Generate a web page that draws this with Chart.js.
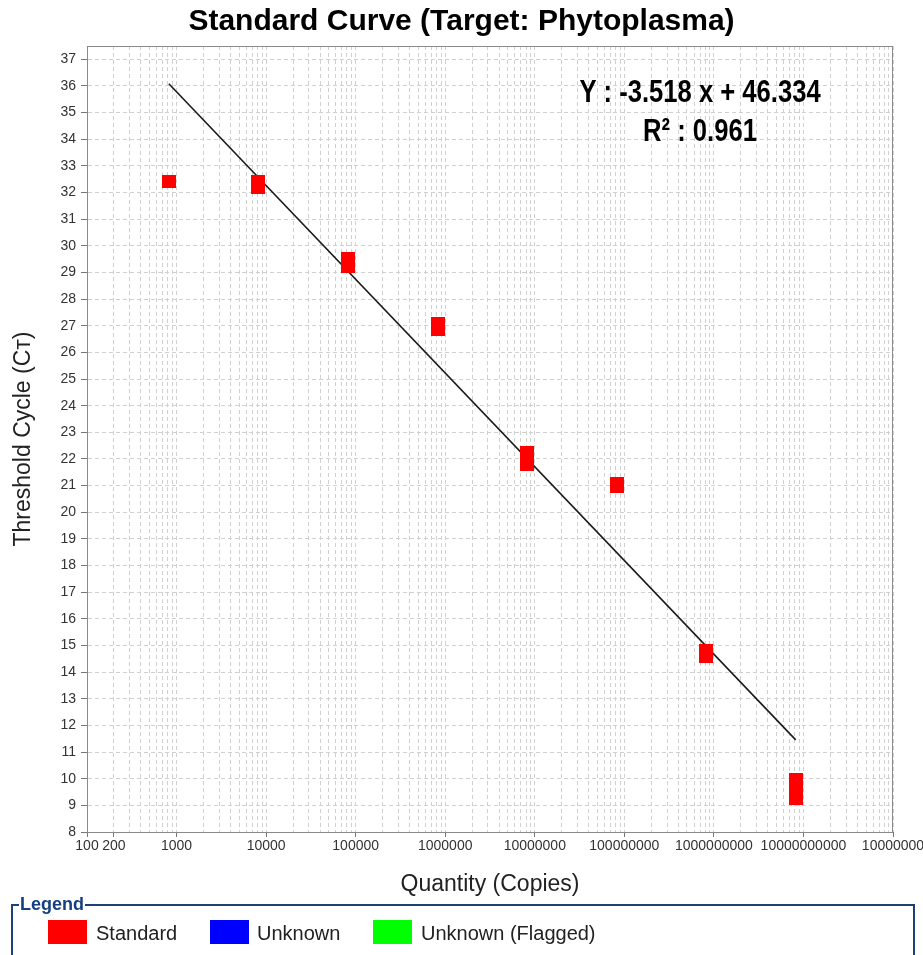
<!DOCTYPE html>
<html>
<head>
<meta charset="utf-8">
<title>Standard Curve</title>
<script src="https://cdn.jsdelivr.net/npm/chart.js@4.4.0/dist/chart.umd.min.js"></script>
<style>
  body { margin: 0; background: #fff; }
  #wrap { position: relative; width: 923px; height: 955px; overflow: hidden; background: #fff; }
  #grafico { position: absolute; left: 0; top: 0; }
  #legenda {
    position: absolute; left: 11px; top: 904px; width: 904px; height: 80px;
    border: 2px solid #1d4173; border-bottom: none; box-sizing: border-box;
    font-family: "Liberation Sans", Arial, sans-serif;
  }
  #legenda .titulo {
    position: absolute; left: 6px; top: -12px; padding: 0 1px; background: #fff;
    font-size: 18px; line-height: 20px; font-weight: bold; color: #143f80;
  }
  #legenda .cor { position: absolute; top: 14px; width: 39px; height: 24px; }
  #legenda .nome { position: absolute; top: 15px; font-size: 20px; line-height: 24px; color: #222; }
</style>
</head>
<body>
<div id="wrap">
  <canvas id="grafico" width="923" height="900"></canvas>
  <div id="legenda"></div>
</div>
<script>
// valores (replicatas de cada padrão)
const quantidades = [820, 8200, 8200, 82000, 82000, 820000, 820000, 8200000, 8200000, 8200000,
  82000000, 82000000, 820000000, 820000000, 8200000000, 8200000000, 8200000000];
const ciclos = [32.43, 32.43, 32.20, 29.53, 29.23, 27.09, 26.86, 22.24, 22.01, 21.79,
  21.07, 20.96, 14.83, 14.57, 9.98, 9.62, 9.27];

// reta de regressão
const inclinacao = -3.518;
const intercepto = 46.334;
const r2 = "0.961";

// marcas dos eixos
const xTicks = [100, 200, 1e3, 1e4, 1e5, 1e6, 1e7, 1e8, 1e9, 1e10, 1e11];
const xTickLabels = ["100", "200", "1000", "10000", "100000", "1000000", "10000000",
  "100000000", "1000000000", "10000000000", "10000000"];
const yTicks = [8, 9, 10, 11, 12, 13, 14, 15, 16, 17, 18, 19, 20, 21, 22, 23, 24, 25, 26,
  27, 28, 29, 30, 31, 32, 33, 34, 35, 36, 37];

const legendaNomes = ["Standard", "Unknown", "Unknown (Flagged)"];
const legendaCores = ["#ff0000", "#0000ff", "#00ff00"];

const fonte = "'Liberation Sans', Arial, sans-serif";

// quadradinho vermelho usado como ponto
const marcador = document.createElement("canvas");
marcador.width = 14;
marcador.height = 13;
const mctx = marcador.getContext("2d");
mctx.fillStyle = "#ff0000";
mctx.fillRect(0, 0, 14, 13);

const qMin = Math.min(...quantidades);
const qMax = Math.max(...quantidades);
const reta = [qMin, qMax].map((q) => ({ x: q, y: intercepto + inclinacao * Math.log10(q) }));

// linhas de grade do eixo log (1..9 x 10^n)
function gradeLog() {
  const lista = [];
  for (let e = 2; e <= 10; e++) {
    for (let m = 1; m <= 9; m++) lista.push(m * Math.pow(10, e));
  }
  lista.push(1e11);
  return lista;
}

const moldura = {
  id: "moldura",
  beforeDatasetsDraw(chart) {
    const { ctx, chartArea: a } = chart;
    ctx.save();
    ctx.strokeStyle = "#8a8a8a";
    ctx.lineWidth = 1;
    ctx.strokeRect(a.left + 0.5, a.top + 0.5, a.right - a.left - 1, a.bottom - a.top);
    ctx.restore();
  },
  afterDatasetsDraw(chart) {
    const ctx = chart.ctx;
    ctx.save();
    // fonte estreita: Liberation Sans comprimida na horizontal
    ctx.translate(700, 0);
    ctx.scale(0.8, 1);
    ctx.fillStyle = "#000";
    ctx.textAlign = "center";
    ctx.font = "bold 32px 'Liberation Sans', Arial, sans-serif";
    ctx.fillText("Y : " + inclinacao + " x + " + intercepto, 0, 102);
    ctx.fillText("R\u00b2 : " + r2, 0, 141);
    ctx.restore();
  },
};

const ctx = document.getElementById("grafico").getContext("2d");

new Chart(ctx, {
  type: "scatter",
  data: {
    datasets: [
      {
        label: legendaNomes[0],
        data: quantidades.map((q, i) => ({ x: q, y: ciclos[i] })),
        pointStyle: marcador,
        pointRadius: 7,
        pointHoverRadius: 7,
      },
      {
        label: "fit",
        data: reta,
        showLine: true,
        pointRadius: 0,
        borderColor: "#1a1a1a",
        borderWidth: 1.6,
      },
    ],
  },
  options: {
    responsive: false,
    animation: false,
    layout: { padding: 0 },
    plugins: {
      legend: { display: false },
      tooltip: { enabled: false },
      title: {
        display: true,
        text: "Standard Curve (Target: Phytoplasma)",
        color: "#000",
        font: { family: fonte, size: 30, weight: "bold" },
        padding: { top: 4, bottom: 6 },
      },
    },
    scales: {
      x: {
        type: "logarithmic",
        min: 100,
        max: 1e11,
        afterBuildTicks: (scale) => {
          scale.ticks = gradeLog().map((v) => ({ value: v }));
        },
        afterFit: (scale) => {
          scale.height = 68;
          scale.paddingLeft = 0;
          scale.paddingRight = 30;
        },
        ticks: {
          autoSkip: false,
          maxRotation: 0,
          minRotation: 0,
          padding: 1,
          color: "#333",
          font: { family: fonte, size: 14 },
          callback: (v) => {
            const i = xTicks.indexOf(v);
            return i >= 0 ? xTickLabels[i] : "";
          },
        },
        grid: {
          color: "#d0d0d0",
          tickLength: 5,
          tickColor: (c) => (c.tick && xTicks.includes(c.tick.value) ? "#777" : "rgba(0,0,0,0)"),
        },
        border: { color: "#777", dash: [4, 3] },
        title: {
          display: true,
          text: "Quantity (Copies)",
          color: "#222",
          font: { family: fonte, size: 23 },
          padding: { top: 0, bottom: 2 },
        },
      },
      y: {
        min: 8,
        max: 37.5,
        afterBuildTicks: (scale) => {
          scale.ticks = yTicks.map((v) => ({ value: v }));
        },
        afterFit: (scale) => {
          scale.width = 87;
        },
        ticks: {
          padding: 5,
          color: "#333",
          font: { family: fonte, size: 14 },
        },
        grid: { color: "#d0d0d0", tickLength: 6, tickColor: "#777" },
        border: { color: "#777", dash: [4, 3] },
        title: {
          display: true,
          text: "Threshold Cycle (C\u1d1b)",
          color: "#222",
          font: { family: fonte, size: 23 },
          padding: { top: 10, bottom: 0 },
        },
      },
    },
  },
  plugins: [moldura],
});

// legenda em caixa, como no original
const caixa = document.getElementById("legenda");
caixa.innerHTML = '<span class="titulo">Legend</span>';
const posCor = [35, 197, 360];
const posNome = [83, 244, 408];
legendaNomes.forEach((nome, i) => {
  const c = document.createElement("div");
  c.className = "cor";
  c.style.left = posCor[i] + "px";
  c.style.background = legendaCores[i];
  caixa.appendChild(c);
  const t = document.createElement("div");
  t.className = "nome";
  t.style.left = posNome[i] + "px";
  t.textContent = nome;
  caixa.appendChild(t);
});
</script>
</body>
</html>
